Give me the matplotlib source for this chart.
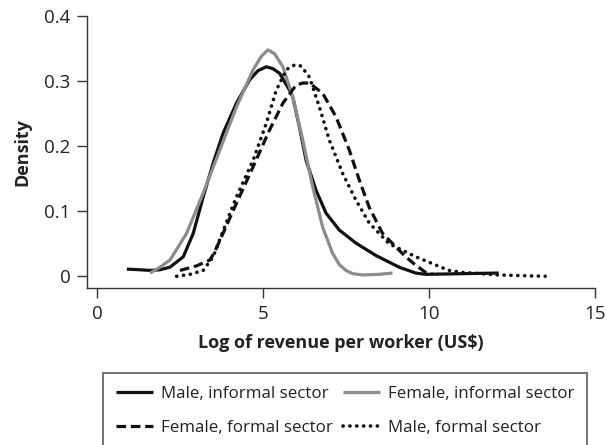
import matplotlib
matplotlib.use("Agg")
import matplotlib.pyplot as plt

plt.rcParams['font.family'] = ['Open Sans', 'DejaVu Sans']

# Kernel density estimates of log revenue per worker, by sex and sector
male_inf_x = [0.9, 1.3, 1.6, 1.9, 2.2, 2.6, 2.9, 3.2, 3.5, 3.8, 4.2, 4.6, 4.85, 5.1,
              5.3, 5.5, 5.8, 5.9, 6.1, 6.3, 6.6, 6.9, 7.3, 7.8, 8.4, 9.1, 9.6, 9.9,
              11.0, 12.1]
male_inf_y = [0.011, 0.010, 0.009, 0.010, 0.014, 0.030, 0.066, 0.122, 0.174, 0.220,
              0.266, 0.302, 0.316, 0.322, 0.319, 0.312, 0.286, 0.275, 0.229, 0.178,
              0.132, 0.097, 0.071, 0.051, 0.032, 0.014, 0.005, 0.003, 0.004, 0.005]

female_inf_x = [1.6, 1.9, 2.2, 2.7, 3.2, 3.7, 4.2, 4.7, 4.95, 5.15, 5.35, 5.6, 5.9,
                6.2, 6.5, 6.8, 7.1, 7.3, 7.5, 7.7, 8.0, 8.5, 8.9]
female_inf_y = [0.005, 0.014, 0.025, 0.066, 0.128, 0.194, 0.260, 0.317, 0.338, 0.348,
                0.342, 0.322, 0.275, 0.209, 0.137, 0.075, 0.035, 0.018, 0.009, 0.004,
                0.002, 0.003, 0.005]

female_for_x = [2.5, 3.0, 3.4, 3.55, 3.7, 4.2, 4.7, 5.2, 5.6, 6.0, 6.2, 6.4, 6.8,
                7.2, 7.6, 7.9, 8.2, 8.6, 9.1, 9.3, 9.6, 9.9, 10.1]
female_for_y = [0.009, 0.016, 0.025, 0.038, 0.055, 0.112, 0.168, 0.225, 0.266, 0.294,
                0.297, 0.297, 0.281, 0.245, 0.194, 0.148, 0.106, 0.066, 0.040, 0.030,
                0.017, 0.006, 0.004]

male_for_x = [2.4, 2.8, 3.2, 3.5, 3.8, 4.2, 4.7, 5.1, 5.4, 5.7, 5.85, 6.0, 6.15,
              6.4, 6.7, 7.0, 7.4, 7.8, 8.2, 8.8, 9.6, 10.6, 11.0, 12.1, 13.5]
male_for_y = [0.0, 0.003, 0.009, 0.030, 0.070, 0.122, 0.178, 0.235, 0.286, 0.317,
              0.323, 0.325, 0.323, 0.306, 0.260, 0.209, 0.158, 0.117, 0.082, 0.050,
              0.030, 0.009, 0.006, 0.002, 0.0]

x_ticks = [0, 5, 10, 15]
y_ticks = [0, 0.1, 0.2, 0.3, 0.4]
y_tick_labels = ['0', '0.1', '0.2', '0.3', '0.4']

fig = plt.figure(figsize=(6.07, 4.45), dpi=100)
ax = fig.add_axes([87 / 607, 1 - 288 / 445, (595 - 87) / 607, (288 - 16) / 445])

lw = 2.3
common = dict(solid_joinstyle='round', dash_joinstyle='round')
h_mi, = ax.plot(male_inf_x, male_inf_y, color='#111111', lw=lw, solid_capstyle='butt',
                label='Male, informal sector', **common)
h_fi, = ax.plot(female_inf_x, female_inf_y, color='#8c8c8c', lw=lw, solid_capstyle='butt',
                label='Female, informal sector', **common)
h_ff, = ax.plot(female_for_x, female_for_y, color='#111111', lw=lw,
                linestyle=(0, (3.0, 1.5)), dash_capstyle='butt',
                label='Female, formal sector', **common)
h_mf, = ax.plot(male_for_x, male_for_y, color='#111111', lw=2.6,
                linestyle=(0, (0.05, 1.85)), dash_capstyle='round',
                label='Male, formal sector', **common)

ax.set_xlim(-0.3, 15)
ax.set_ylim(-0.018, 0.4)
ax.set_xticks(x_ticks)
ax.set_yticks(y_ticks)
ax.set_yticklabels(y_tick_labels)

for side in ['top', 'right']:
    ax.spines[side].set_visible(False)
for side in ['left', 'bottom']:
    ax.spines[side].set_color('#333333')
    ax.spines[side].set_linewidth(1.0)
ax.tick_params(axis='both', direction='out', length=7, width=1.0, color='#333333',
               labelsize=13.5, labelcolor='#222222', pad=5)

ax.set_xlabel('Log of revenue per worker (US$)', fontsize=13, fontweight='bold',
              color='#222222', labelpad=8)
ax.set_ylabel('Density', fontsize=13, fontweight='bold', color='#222222', labelpad=9)

# two columns filled column-wise: rows read left to right
handles = [h_mi, h_ff, h_fi, h_mf]
labels = [h.get_label() for h in handles]
leg = fig.legend(handles, labels, loc='upper left',
                 bbox_to_anchor=(103 / 607, 1 - 373 / 445),
                 ncol=2, fontsize=12.2, frameon=True, fancybox=False,
                 handlelength=2.2, handletextpad=0.45, columnspacing=0.6,
                 borderpad=0.75, labelspacing=1.1, borderaxespad=0)
leg.get_frame().set_edgecolor('#333333')
leg.get_frame().set_linewidth(1.2)
for t in leg.get_texts():
    t.set_color('#222222')

fig.savefig('out.png', dpi=100)
